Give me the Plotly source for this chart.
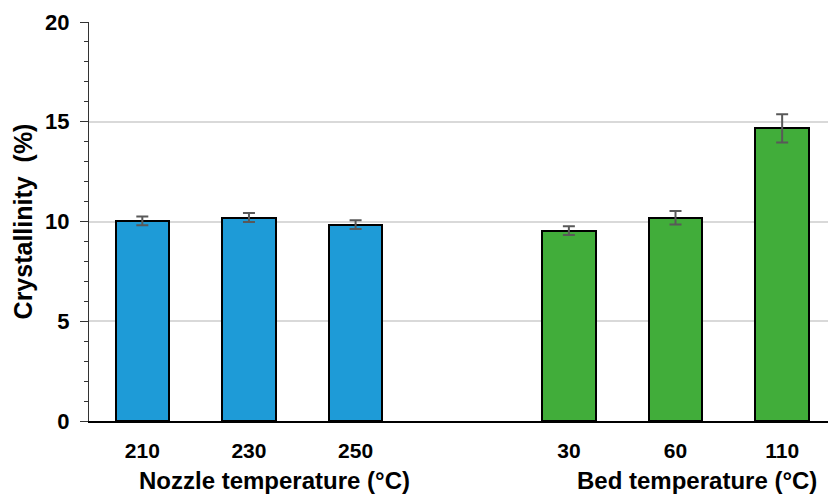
import plotly.graph_objects as go

# Crystallinity measurements by printing condition
nozzle_labels = ["210", "230", "250"]
nozzle_values = [10.03, 10.20, 9.84]
nozzle_errors = [0.22, 0.22, 0.22]

bed_labels = ["30", "60", "110"]
bed_values = [9.54, 10.19, 14.67]
bed_errors = [0.22, 0.34, 0.71]

group_titles = ["Nozzle temperature (°C)", "Bed temperature (°C)"]
y_ticks = [0, 5, 10, 15, 20]

nozzle_pos = [0, 1, 2]
bed_pos = [4, 5, 6]

FONT = "Liberation Sans, Arial, sans-serif"

fig = go.Figure()
fig.add_trace(go.Bar(
    x=nozzle_pos, y=nozzle_values, width=0.5,
    marker=dict(color="#1E9BD7", line=dict(color="#000000", width=2)),
    error_y=dict(type="data", array=nozzle_errors, color="#595959",
                 thickness=2, width=6),
    showlegend=False,
))
fig.add_trace(go.Bar(
    x=bed_pos, y=bed_values, width=0.5,
    marker=dict(color="#41AD3A", line=dict(color="#000000", width=2)),
    error_y=dict(type="data", array=bed_errors, color="#595959",
                 thickness=2, width=6),
    showlegend=False,
))

fig.update_layout(
    width=828, height=494,
    margin=dict(l=89, r=0, t=22, b=73),
    plot_bgcolor="white", paper_bgcolor="white",
    font=dict(family=FONT, size=21, color="#000000"),
    bargap=0,
    xaxis=dict(
        range=[-0.5, 6.43],
        tickvals=nozzle_pos + bed_pos,
        ticktext=nozzle_labels + bed_labels,
        tickfont=dict(family=FONT, size=21, color="#000000", weight="bold"),
        showgrid=False, zeroline=False,
        showline=True, linecolor="#000000", linewidth=2,
        ticks="", ticklabelstandoff=10,
    ),
    yaxis=dict(
        range=[0, 20],
        tickvals=y_ticks,
        tickfont=dict(family=FONT, size=22, color="#000000", weight="bold"),
        showgrid=True, gridcolor="#D9D9D9", gridwidth=2,
        zeroline=False,
        showline=True, linecolor="#333333", linewidth=1,
        ticks="outside", ticklen=8, tickcolor="#333333", tickwidth=1,
        ticklabelstandoff=6,
        minor=dict(dtick=1, ticks="outside", ticklen=4,
                   tickcolor="#333333", tickwidth=1, showgrid=False),
        title=dict(text="Crystallinity  (%)",
                   font=dict(family=FONT, size=25, color="#000000", weight="bold"),
                   standoff=5),
    ),
)

for x_center, text in zip([1.24, 5.2], group_titles):
    fig.add_annotation(
        x=x_center, xref="x", y=0, yref="paper",
        yshift=-59, text=text, showarrow=False,
        font=dict(family=FONT, size=24, color="#000000", weight="bold"),
        xanchor="center", yanchor="middle",
    )

fig.write_html("out.html")
